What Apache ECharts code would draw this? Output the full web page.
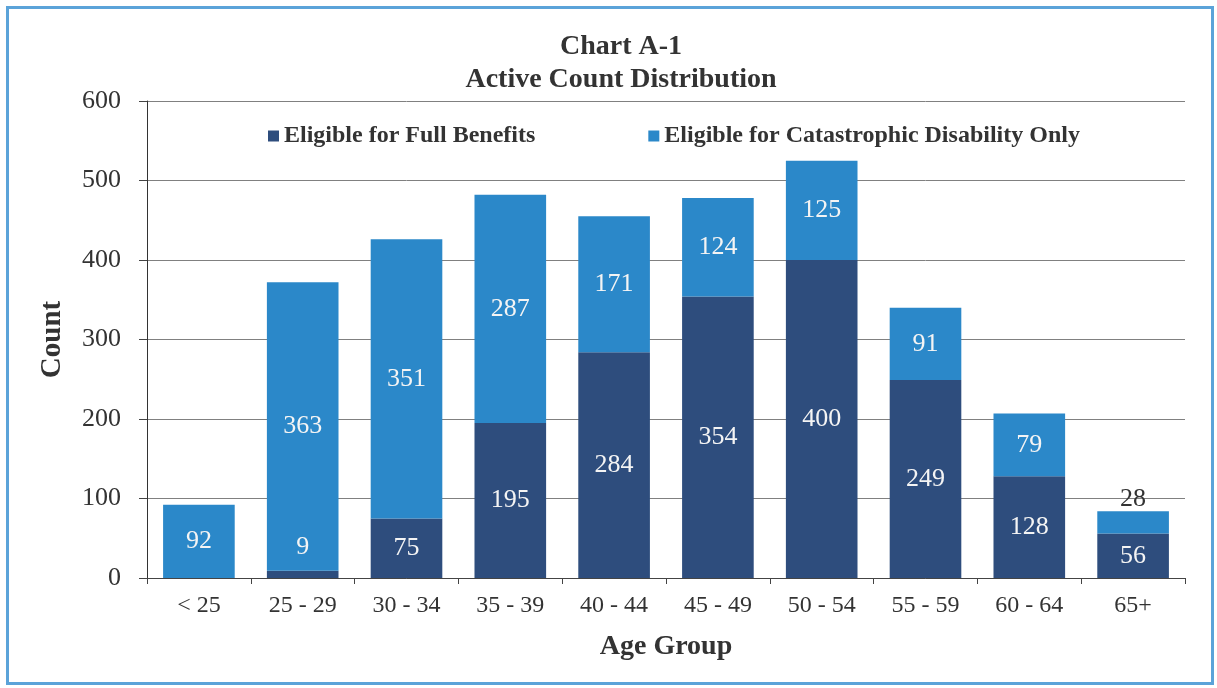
<!DOCTYPE html>
<html>
<head>
<meta charset="utf-8">
<script src="https://cdn.jsdelivr.net/npm/echarts@6/dist/echarts.min.js"></script>
<style>
html,body{margin:0;padding:0;background:#fff;}
#frame{position:absolute;left:6px;top:6px;width:1202px;height:673px;border:3px solid #5ba3d9;}
#chart{position:absolute;left:0;top:0;width:1217px;height:688px;}
</style>
</head>
<body>
<div id="frame"></div>
<div id="chart"></div>
<script>
const categories = ['< 25','25 - 29','30 - 34','35 - 39','40 - 44','45 - 49','50 - 54','55 - 59','60 - 64','65+'];
const fullBenefits = [0, 9, 75, 195, 284, 354, 400, 249, 128, 56];
const catastrophicOnly = [92, 363, 351, 287, 171, 124, 125, 91, 79, 28];
const yTicks = [0, 100, 200, 300, 400, 500, 600];

const FONT = '"Liberation Serif", "Times New Roman", serif';
const DARK = '#2e4d7d';
const LIGHT = '#2b88c9';

const chart = echarts.init(document.getElementById('chart'), null, {renderer: 'canvas'});

const fullData = fullBenefits.map((v, i) => {
  const item = {value: v};
  if (v === 0) item.label = {show: false};
  if (v < 20 && v > 0) item.label = {offset: [0, -27]};
  return item;
});
const catData = catastrophicOnly.map((v, i) => {
  const item = {value: v};
  if (v < 40) item.label = {position: 'top', color: '#333', offset: [0, 6]};
  return item;
});

chart.setOption({
  animation: false,
  backgroundColor: 'transparent',
  title: [
    {text: 'Chart A-1\nActive Count Distribution', left: 616, top: 25, textAlign: 'center',
     textStyle: {fontFamily: FONT, fontSize: 28, fontWeight: 'bold', color: '#333', lineHeight: 33}}
  ],
  legend: {
    top: 119, left: 263, itemWidth: 11, itemHeight: 11, itemGap: 113,
    icon: 'rect',
    textStyle: {fontFamily: FONT, fontSize: 24, fontWeight: 'bold', color: '#333'}
  },
  grid: {left: 147, right: 32, top: 101, bottom: 110, containLabel: false},
  xAxis: {
    type: 'category', data: categories,
    name: 'Age Group', nameLocation: 'middle', nameGap: 55,
    nameTextStyle: {fontFamily: FONT, fontSize: 28, fontWeight: 'bold', color: '#333'},
    axisLine: {lineStyle: {color: '#444', width: 1}},
    axisTick: {show: true, alignWithLabel: false, length: 6, lineStyle: {color: '#444'}},
    axisLabel: {fontFamily: FONT, fontSize: 24, color: '#333', margin: 16}
  },
  yAxis: {
    type: 'value', min: yTicks[0], max: yTicks[yTicks.length - 1], interval: 100,
    name: 'Count', nameLocation: 'middle', nameGap: 80,
    nameTextStyle: {fontFamily: FONT, fontSize: 29, fontWeight: 'bold', color: '#333'},
    axisLine: {show: true, lineStyle: {color: '#333', width: 1}},
    axisTick: {show: true, length: 8, lineStyle: {color: '#444'}},
    splitLine: {lineStyle: {color: '#808080', width: 1}},
    axisLabel: {fontFamily: FONT, fontSize: 26, color: '#333', margin: 26}
  },
  series: [
    {name: 'Eligible for Full Benefits', type: 'bar', stack: 'total', data: fullData,
     barWidth: '69%', itemStyle: {color: DARK},
     label: {show: true, position: 'inside', fontFamily: FONT, fontSize: 26, color: '#f4f4f4'}},
    {name: 'Eligible for Catastrophic Disability Only', type: 'bar', stack: 'total', data: catData,
     barWidth: '69%', itemStyle: {color: LIGHT},
     label: {show: true, position: 'inside', fontFamily: FONT, fontSize: 26, color: '#f4f4f4'}}
  ]
});
</script>
</body>
</html>
